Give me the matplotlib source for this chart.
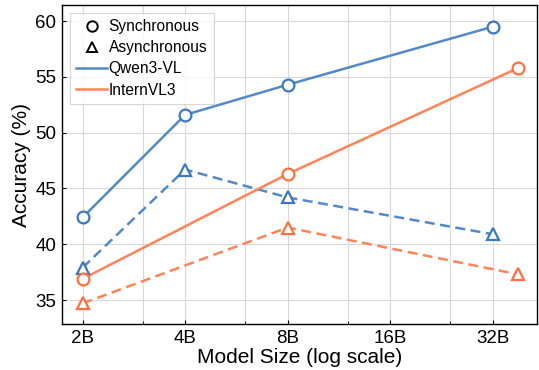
import matplotlib
matplotlib.use("Agg")
import matplotlib.pyplot as plt
from matplotlib.lines import Line2D
from matplotlib.ticker import FixedLocator, NullFormatter

plt.rcParams['font.family'] = ['Liberation Sans', 'DejaVu Sans']

qwen_sizes = [2, 4, 8, 32]
qwen_sync = [42.4, 51.6, 54.3, 59.5]
qwen_async = [37.9, 46.7, 44.2, 40.9]

intern_sizes = [2, 8, 38]
intern_sync = [36.9, 46.3, 55.8]
intern_async = [34.7, 41.5, 37.3]

xticks = [2, 4, 8, 16, 32]
xtick_labels = ['2B', '4B', '8B', '16B', '32B']
minor_xticks = [3, 6, 12, 24]

blue = '#5289c8'
blue_m = '#3b78bf'
orange = '#ff8458'
orange_m = '#ff6f42'

fig = plt.figure(figsize=(5.39, 3.70), dpi=100)
ax = fig.add_axes([62/539, 46/370, (537-62)/539, (324-5)/370])

lw = 1.8
ms = 8.5
ax.plot(qwen_sizes, qwen_sync, '-', color=blue, lw=lw, zorder=3)
ax.plot(qwen_sizes, qwen_sync, 'o', mfc='white', mec=blue_m, mew=1.6, ms=ms, zorder=4)
ax.plot(qwen_sizes, qwen_async, '--', color=blue, lw=lw, dashes=(4, 2.2), zorder=3)
ax.plot(qwen_sizes, qwen_async, '^', mfc='white', mec=blue_m, mew=1.6, ms=ms, zorder=4)
ax.plot(intern_sizes, intern_sync, '-', color=orange, lw=lw, zorder=3)
ax.plot(intern_sizes, intern_sync, 'o', mfc='white', mec=orange_m, mew=1.6, ms=ms, zorder=4)
ax.plot(intern_sizes, intern_async, '--', color=orange, lw=lw, dashes=(4, 2.2), zorder=3)
ax.plot(intern_sizes, intern_async, '^', mfc='white', mec=orange_m, mew=1.6, ms=ms, zorder=4)

ax.set_xscale('log', base=2)
ax.set_xlim(1.74, 43.2)
ax.set_ylim(32.85, 61.45)
ax.xaxis.set_major_locator(FixedLocator(xticks))
ax.set_xticklabels(xtick_labels)
ax.xaxis.set_minor_locator(FixedLocator(minor_xticks))
ax.xaxis.set_minor_formatter(NullFormatter())
ax.set_yticks([35, 40, 45, 50, 55, 60])

ax.tick_params(axis='both', which='major', direction='in', labelsize=13.5, length=3, width=0.8, pad=4)
ax.tick_params(axis='x', which='minor', direction='in', length=2, width=0.6)
ax.grid(True, which='both', color='#d9d9d9', lw=0.8, zorder=0)
ax.set_axisbelow(True)
for s in ax.spines.values():
    s.set_linewidth(1.0)
    s.set_color('black')

ax.set_xlabel('Model Size (log scale)', fontsize=15, labelpad=1)
ax.set_ylabel('Accuracy (%)', fontsize=15, labelpad=3)

handles = [
    Line2D([], [], ls='none', marker='o', mfc='white', mec='black', mew=1.4, ms=7.5, label='Synchronous'),
    Line2D([], [], ls='none', marker='^', mfc='white', mec='black', mew=1.4, ms=7.5, label='Asynchronous'),
    Line2D([], [], color=blue, lw=lw, label='Qwen3-VL'),
    Line2D([], [], color=orange, lw=lw, label='InternVL3'),
]
leg = ax.legend(handles=handles, loc='upper left', fontsize=11.2, frameon=True,
                fancybox=False, edgecolor='#cccccc', handlelength=2.0,
                handletextpad=0.1, borderpad=0.4, labelspacing=0.4,
                bbox_to_anchor=(0.0, 1.0), borderaxespad=0.5)
leg.get_frame().set_linewidth(0.8)

fig.savefig('out.png', dpi=100)
